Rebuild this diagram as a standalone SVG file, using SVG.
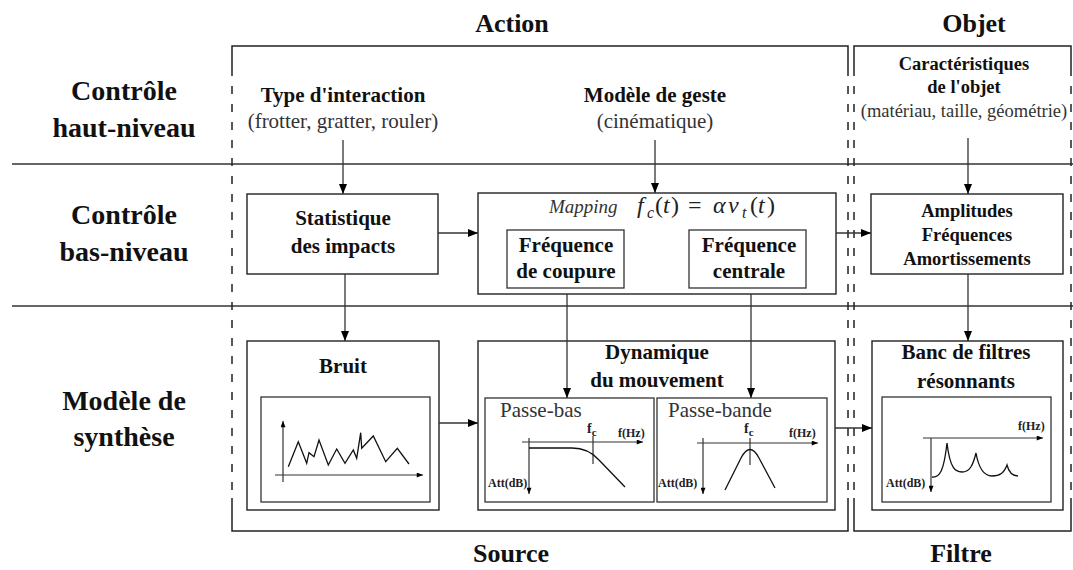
<svg xmlns="http://www.w3.org/2000/svg" width="1073" height="570" viewBox="0 0 1073 570">
<defs>
<marker id="ah" viewBox="0 0 10 8" refX="10" refY="4" markerWidth="10" markerHeight="8" markerUnits="userSpaceOnUse" orient="auto"><path d="M0,0 L10,4 L0,8 z" fill="#000"/></marker>
<marker id="ahs" viewBox="0 0 10 8" refX="10" refY="4" markerWidth="7" markerHeight="5" markerUnits="userSpaceOnUse" orient="auto"><path d="M0,0 L10,4 L0,8 z" fill="#000"/></marker>
</defs>
<style>
text{font-family:"Liberation Serif","Times New Roman",serif;}
.h{font-weight:bold;font-size:28px;fill:#111;text-anchor:middle}
.col{font-weight:bold;font-size:26px;fill:#111;text-anchor:middle}
.b{font-weight:bold;font-size:21px;fill:#111;text-anchor:middle}
.bo{font-weight:bold;font-size:18.5px;fill:#111;text-anchor:middle}
.r{font-size:21px;fill:#333;text-anchor:middle}
.ro{font-size:18.5px;fill:#333;text-anchor:middle}
.pl{font-size:21px;fill:#333}
.box{fill:#fff;stroke:#222;stroke-width:1.4}
.ibox{fill:#fff;stroke:#333;stroke-width:1.3}
.sep{stroke:#333;stroke-width:1.6}
.frame{stroke:#222;stroke-width:1.5;fill:none}
.dash{stroke:#222;stroke-width:1.5;stroke-dasharray:8 10;fill:none}
.conn{stroke:#333;stroke-width:1.3;fill:none}
.ax{stroke:#333;stroke-width:1.2;fill:none}
.curve{stroke:#111;stroke-width:1.3;fill:none}
.sm{font-weight:bold;font-size:12px;fill:#222}
.fc{font-weight:bold;font-size:14px;fill:#222}
.math{font-size:24px;fill:#222}
.it{font-style:italic}
</style>

<!-- separators -->
<g id="separators">
<line class="sep" x1="12" y1="164" x2="1073" y2="164"/>
<line class="sep" x1="12" y1="306" x2="1073" y2="306"/>
</g>

<!-- row labels -->
<g id="rows">
<text class="h" x="124" y="100">Contrôle</text>
<text class="h" x="124" y="137">haut-niveau</text>
<text class="h" x="124" y="224">Contrôle</text>
<text class="h" x="124" y="261">bas-niveau</text>
<text class="h" x="124" y="410">Modèle de</text>
<text class="h" x="124" y="446">synthèse</text>
</g>

<!-- Action frame -->
<g id="action">
<text class="col" x="512" y="32">Action</text>
<path class="frame" d="M232,68 V46 H848 V68 M232,498 V531 H848 V498"/>
<path class="dash" d="M232,68 V498 M848,68 V498"/>
<text class="col" x="511" y="562">Source</text>
</g>

<!-- Objet frame -->
<g id="objet">
<text class="col" x="974" y="32">Objet</text>
<path class="frame" d="M854,68 V46 H1071 V68 M854,498 V531 H1071 V498"/>
<path class="dash" d="M854,68 V498 M1071,68 V498"/>
<text class="col" x="961" y="562">Filtre</text>
</g>

<g id="type-interaction">
<text class="b" x="343" y="102">Type d'interaction</text>
<text class="r" x="343" y="128">(frotter, gratter, rouler)</text>
</g>

<g id="modele-geste">
<text class="b" x="655" y="102">Modèle de geste</text>
<text class="r" x="655" y="128">(cinématique)</text>
</g>

<g id="caracteristiques">
<text class="bo" x="964" y="70">Caractéristiques</text>
<text class="bo" x="964" y="93">de l'objet</text>
<text class="ro" x="964" y="117">(matériau, taille, géométrie)</text>
</g>

<g id="statistique">
<rect class="box" x="247" y="194" width="191" height="80"/>
<text class="b" x="343" y="225">Statistique</text>
<text class="b" x="343" y="253">des impacts</text>
</g>

<g id="mapping">
<rect class="box" x="478" y="193" width="358" height="101"/>
<text x="549" y="213" font-size="19" font-style="italic" fill="#333">Mapping</text>
<text class="math" y="213"><tspan class="it" x="637">f</tspan><tspan class="it" x="647" y="218" font-size="16">c</tspan><tspan x="655" y="213">(</tspan><tspan class="it" x="663">t</tspan><tspan x="671">)</tspan><tspan x="688">=</tspan><tspan class="it" x="713">α</tspan><tspan class="it" x="728">v</tspan><tspan class="it" x="742" y="218" font-size="16">t</tspan><tspan x="750" y="213">(</tspan><tspan class="it" x="758">t</tspan><tspan x="767">)</tspan></text>
</g>

<g id="freq-coupure">
<rect class="ibox" x="507" y="230" width="117" height="58"/>
<text class="b" x="566" y="252">Fréquence</text>
<text class="b" x="566" y="278">de coupure</text>
</g>

<g id="freq-centrale">
<rect class="ibox" x="689" y="230" width="117" height="58"/>
<text class="b" x="749" y="252">Fréquence</text>
<text class="b" x="749" y="278">centrale</text>
</g>

<g id="amplitudes">
<rect class="box" x="871" y="194" width="192" height="80"/>
<text class="bo" x="967" y="217" font-size="19">Amplitudes</text>
<text class="bo" x="967" y="241" font-size="19">Fréquences</text>
<text class="bo" x="967" y="265" font-size="19">Amortissements</text>
</g>

<g id="bruit">
<rect class="box" x="247" y="341" width="192" height="169"/>
<text class="b" x="343" y="373">Bruit</text>
<rect class="ibox" x="261" y="397" width="169" height="105"/>
<line class="ax" x1="283" y1="482" x2="283" y2="421" marker-end="url(#ahs)"/>
<line class="ax" x1="275" y1="475" x2="423" y2="475" marker-end="url(#ahs)"/>
<polyline class="curve" points="288.3,466.7 298.3,441.7 306.7,463.3 309,452.7 314,456.7 319,440 328.3,465 336.7,449 345,463.3 353.3,450 356.7,458.3 360.7,432.7 361.7,448.3 373.3,436 385.7,461.7 397.3,448.3 409,464"/>
</g>

<g id="dynamique">
<rect class="box" x="478" y="341" width="357" height="169"/>
<text class="b" x="657" y="359" font-size="22">Dynamique</text>
<text class="b" x="657" y="387" font-size="22">du mouvement</text>
</g>

<g id="passe-bas">
<rect class="ibox" x="485" y="398" width="169" height="104"/>
<text class="pl" x="500" y="417">Passe-bas</text>
<line class="ax" x1="522" y1="442" x2="643" y2="442" marker-end="url(#ahs)"/>
<line class="ax" x1="529" y1="438" x2="529" y2="494" marker-end="url(#ahs)"/>
<line class="ax" x1="593" y1="436" x2="593" y2="464"/>
<path class="curve" d="M529,448 H572 C584,448 592,452 599,460 L625,487"/>
<text class="fc" x="587" y="433">f<tspan font-size="11" dy="3">c</tspan></text>
<text class="sm" x="618" y="437">f(Hz)</text>
<text class="sm" x="488" y="487">Att(dB)</text>
</g>

<g id="passe-bande">
<rect class="ibox" x="657" y="398" width="170" height="104"/>
<text class="pl" x="668" y="417">Passe-bande</text>
<line class="ax" x1="697" y1="443" x2="818" y2="443" marker-end="url(#ahs)"/>
<line class="ax" x1="703" y1="438" x2="703" y2="494" marker-end="url(#ahs)"/>
<line class="ax" x1="750" y1="438" x2="750" y2="465"/>
<path class="curve" d="M725,490 L741,458 Q750,441 759,458 L775,488"/>
<text class="fc" x="744" y="433">f<tspan font-size="11" dy="3">c</tspan></text>
<text class="sm" x="789" y="437">f(Hz)</text>
<text class="sm" x="658" y="487">Att(dB)</text>
</g>

<g id="banc-filtres">
<rect class="box" x="872" y="341" width="191" height="169"/>
<text class="b" x="966" y="359">Banc de filtres</text>
<text class="b" x="966" y="388">résonnants</text>
<rect class="ibox" x="882" y="397" width="169" height="105"/>
<line class="ax" x1="923" y1="438" x2="1043" y2="438" marker-end="url(#ahs)"/>
<line class="ax" x1="931" y1="438" x2="931" y2="492" marker-end="url(#ahs)"/>
<path class="curve" d="M932,477 C940,478 944,470 947,443 C950,468 955,472 962,472 C970,472 973,465 976,453 C979,470 985,476 992,476 C1000,476 1004,473 1007,465 C1009,473 1013,476 1018,476"/>
<text class="sm" x="1018" y="430">f(Hz)</text>
<text class="sm" x="886" y="487">Att(dB)</text>
</g>

<!-- connectors -->
<g id="connectors">
<line class="conn" x1="343" y1="140" x2="343" y2="194" marker-end="url(#ah)"/>
<line class="conn" x1="655" y1="140" x2="655" y2="193" marker-end="url(#ah)"/>
<line class="conn" x1="968" y1="138" x2="968" y2="194" marker-end="url(#ah)"/>
<line class="conn" x1="438" y1="233" x2="478" y2="233" marker-end="url(#ah)"/>
<line class="conn" x1="836" y1="233" x2="871" y2="233" marker-end="url(#ah)"/>
<line class="conn" x1="345" y1="274" x2="345" y2="341" marker-end="url(#ah)"/>
<line class="conn" x1="968" y1="274" x2="968" y2="341" marker-end="url(#ah)"/>
<line class="conn" x1="567" y1="294" x2="567" y2="398" marker-end="url(#ah)"/>
<line class="conn" x1="751" y1="294" x2="751" y2="398" marker-end="url(#ah)"/>
<line class="conn" x1="439" y1="423" x2="478" y2="423" marker-end="url(#ah)"/>
<line class="conn" x1="835" y1="428" x2="872" y2="428" marker-end="url(#ah)"/>
</g>
</svg>
